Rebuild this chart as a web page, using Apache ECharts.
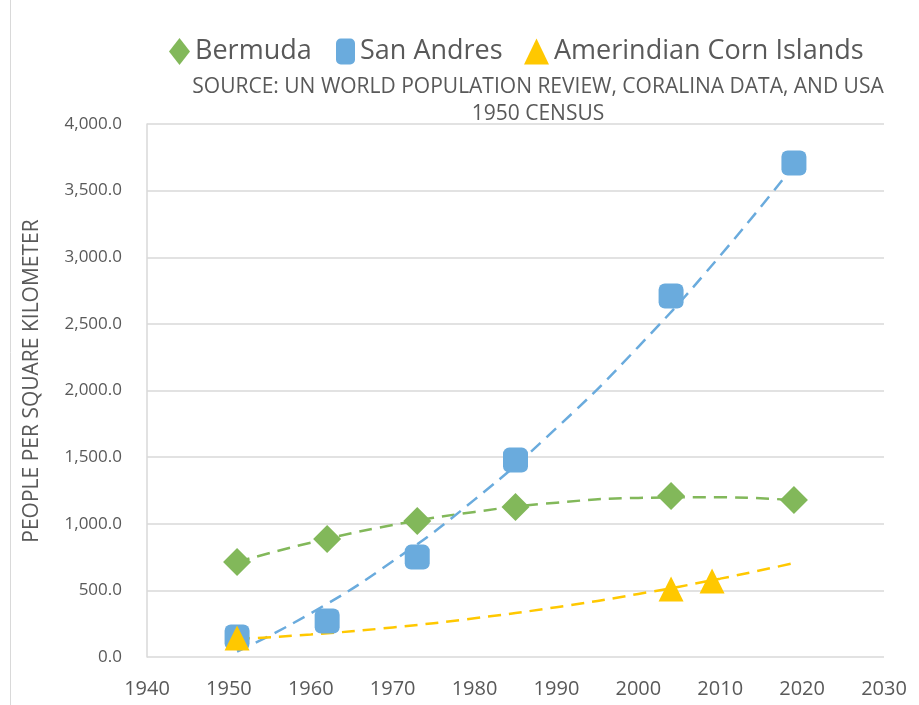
<!DOCTYPE html>
<html><head><meta charset="utf-8">
<script src="https://cdn.jsdelivr.net/npm/echarts@6/dist/echarts.min.js"></script>
<style>html,body{margin:0;padding:0;background:#fff}#c{width:919px;height:705px}</style>
</head><body><div id="c"></div>
<script>
// Observed data (year, people per km²)
const bermudaYears = [1951, 1962, 1973, 1985, 2004, 2019];
const bermudaValues = [713, 886, 1021, 1126, 1208, 1178];
const sanAndresYears = [1951, 1962, 1973, 1985, 2004, 2019];
const sanAndresValues = [150, 270, 750, 1478, 2709, 3707];
const cornYears = [1951, 2004, 2009];
const cornValues = [143, 510, 570];
// Trendline values
const trendYears = [1951, 1960, 1970, 1980, 1990, 2000, 2010, 2019];
const bermudaTrend = [713, 858, 990, 1089, 1158, 1194, 1199, 1176];
const sanAndresTrend = [40, 328, 718, 1181, 1718, 2328, 3012, 3690];
const cornTrend = [135, 169, 222, 291, 374, 473, 588, 705];
const xTicks = [1940, 1950, 1960, 1970, 1980, 1990, 2000, 2010, 2020, 2030];
const yTicks = [0, 500, 1000, 1500, 2000, 2500, 3000, 3500, 4000];

const names = ['Bermuda', 'San Andres', 'Amerindian Corn Islands'];
const colors = ['#82B85A', '#6AABDD', '#FFC800'];
const pair = (xs, ys) => xs.map((x, i) => [x, ys[i]]);
const FONT = 'Open Sans';
const TXT = '#595959';

const chart = echarts.init(document.getElementById('c'), null, {renderer: 'canvas'});
const trend = (data, color) => ({
  type: 'line', data, smooth: true, symbol: 'none', silent: true, z: 2,
  lineStyle: {color, width: 2.5, type: [13, 8]}
});
const fmt = v => v.toLocaleString('en-US', {minimumFractionDigits: 1, maximumFractionDigits: 1});
const legendText = {fontFamily: FONT, fontSize: 27, color: TXT};
chart.setOption({
  animation: false,
  textStyle: {fontFamily: FONT},
  graphic: [
    {type: 'line', shape: {x1: 10.5, y1: 0, x2: 10.5, y2: 705}, style: {stroke: '#d9d9d9', lineWidth: 1}},
    {type: 'text', x: 32, y: 381, rotation: Math.PI / 2,
     style: {text: 'PEOPLE PER SQUARE KILOMETER', font: '21px "Open Sans"', fill: TXT, align: 'center', verticalAlign: 'middle'}}
  ],
  title: {
    text: 'SOURCE: UN WORLD POPULATION REVIEW, CORALINA DATA, AND USA\n1950 CENSUS',
    left: 533, top: 69, textAlign: 'center',
    textStyle: {fontFamily: FONT, fontSize: 21, fontWeight: 'normal', color: TXT, lineHeight: 27}
  },
  legend: [
    {data: [{name: names[0], icon: 'diamond'}], left: 164, top: 33, itemWidth: 21, itemHeight: 27, itemGap: 6, textStyle: legendText, itemStyle: {opacity: 1}},
    {data: [{name: names[1], icon: 'roundRect'}], left: 331, top: 33, itemWidth: 19, itemHeight: 26, textStyle: legendText, itemStyle: {opacity: 1}},
    {data: [{name: names[2], icon: 'triangle'}], left: 519, top: 33, itemWidth: 25, itemHeight: 26, textStyle: legendText, itemStyle: {opacity: 1}}
  ],
  grid: {left: 147, right: 35, top: 124, bottom: 48},
  xAxis: {
    type: 'value', min: xTicks[0], max: xTicks[xTicks.length - 1], interval: 10,
    axisLine: {show: false}, axisTick: {show: false}, splitLine: {show: false},
    axisLabel: {fontFamily: FONT, fontSize: 20, color: TXT, margin: 22, formatter: v => String(v)}
  },
  yAxis: {
    type: 'value', min: yTicks[0], max: yTicks[yTicks.length - 1], interval: 500,
    axisLine: {show: true, lineStyle: {color: '#d9d9d9', width: 1.5}}, axisTick: {show: false},
    splitLine: {lineStyle: {color: '#d9d9d9', width: 1.5}},
    axisLabel: {fontFamily: FONT, fontSize: 17, color: TXT, margin: 25, formatter: fmt}
  },
  series: [
    trend(pair(trendYears, bermudaTrend), colors[0]),
    trend(pair(trendYears, sanAndresTrend), colors[1]),
    trend(pair(trendYears, cornTrend), colors[2]),
    {name: names[0], type: 'scatter', data: pair(bermudaYears, bermudaValues), symbol: 'diamond', symbolSize: 28, itemStyle: {color: colors[0], opacity: 1}, z: 3},
    {name: names[1], type: 'scatter', data: pair(sanAndresYears, sanAndresValues), symbol: 'roundRect', symbolSize: 25, itemStyle: {color: colors[1], opacity: 1}, z: 3},
    {name: names[2], type: 'scatter', data: pair(cornYears, cornValues), symbol: 'triangle', symbolSize: [25, 25], itemStyle: {color: colors[2], opacity: 1}, z: 4}
  ]
});
</script></body></html>
